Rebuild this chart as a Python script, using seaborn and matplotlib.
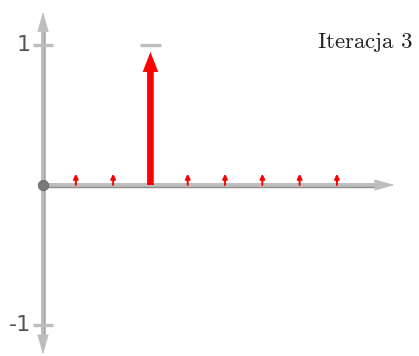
import matplotlib
matplotlib.use("Agg")
import matplotlib.pyplot as plt
import numpy as np
import pandas as pd
import seaborn as sns

# ==== data
positions = [0.88, 1.88, 2.88, 3.88, 4.88, 5.88, 6.88, 7.88]
heights = [0.08, 0.08, 0.95, 0.08, 0.08, 0.08, 0.08, 0.08]
target_pos = 2.88
target_val = 1
ytick_vals = [1, -1]
ytick_labels = ['1', '-1']
title = 'Iteracja 3'

sns.set_theme(style="white")
plt.rcParams['mathtext.fontset'] = 'cm'

axis_gray = '#bdbdbd'
axis_dark = '#8e8e8e'
fig = plt.figure(figsize=(4.19, 3.56), dpi=100)
ax = fig.add_axes([0, 0, 1, 1])
ax.set_xlim(-1.153, 10.08)
ax.set_ylim(-1.221, 1.321)
ax.axis('off')

# axis shafts
ax.plot([0, 8.95], [0, 0], color=axis_gray, lw=3.6, solid_capstyle='butt', zorder=1)
ax.plot([0, 8.95], [-0.012, -0.012], color=axis_dark, lw=1.0, solid_capstyle='butt', zorder=1)
ax.plot([0, 0], [-1.08, 1.10], color=axis_gray, lw=3.6, solid_capstyle='butt', zorder=1)
ax.plot([0.035, 0.035], [-1.08, 1.10], color='#a5a5a5', lw=0.8, solid_capstyle='butt', zorder=1)

# axis arrow heads
head = dict(arrowstyle='-|>,head_length=0.6,head_width=0.17', color=axis_gray, lw=0.5,
            mutation_scale=22, shrinkA=0, shrinkB=0)
ax.annotate('', xy=(9.42, 0), xytext=(8.8, 0), arrowprops=head)
ax.annotate('', xy=(0, 1.236), xytext=(0, 1.05), arrowprops=head)
ax.annotate('', xy=(0, -1.21), xytext=(0, -1.03), arrowprops=head)

# y ticks
for v, lab in zip(ytick_vals, ytick_labels):
    ax.plot([-0.27, 0.27], [v, v], color=axis_gray, lw=2.4, solid_capstyle='butt', zorder=2)
    ax.text(-0.32, v, lab, ha='right', va='center', fontsize=16, color='#555555')

# origin dot
origin = pd.DataFrame({'x': [0], 'y': [0]})
sns.scatterplot(data=origin, x='x', y='y', s=55, color='#7a7a7a', edgecolor='#666666',
                linewidth=0.6, ax=ax, zorder=5, legend=False)

# target dash
ax.plot([target_pos - 0.27, target_pos + 0.27], [target_val, target_val],
        color=axis_gray, lw=2.4, solid_capstyle='butt')

# red arrows
for p, h in zip(positions, heights):
    if h > 0.5:
        ax.annotate('', xy=(p, h), xytext=(p, 0),
                    arrowprops=dict(arrowstyle='simple,head_length=0.72,head_width=0.56,tail_width=0.24',
                                    color='red', lw=0, mutation_scale=20, shrinkA=0, shrinkB=0))
    else:
        ax.annotate('', xy=(p, h), xytext=(p, 0),
                    arrowprops=dict(arrowstyle='-|>', color='red', lw=1.4, mutation_scale=7,
                                    shrinkA=0, shrinkB=0))

ax.text(0.984, 0.865, r'$\mathrm{Iteracja\ 3}$', transform=ax.transAxes,
        ha='right', va='baseline', fontsize=16.5, color='#222222')

fig.savefig('out.png', dpi=100)
